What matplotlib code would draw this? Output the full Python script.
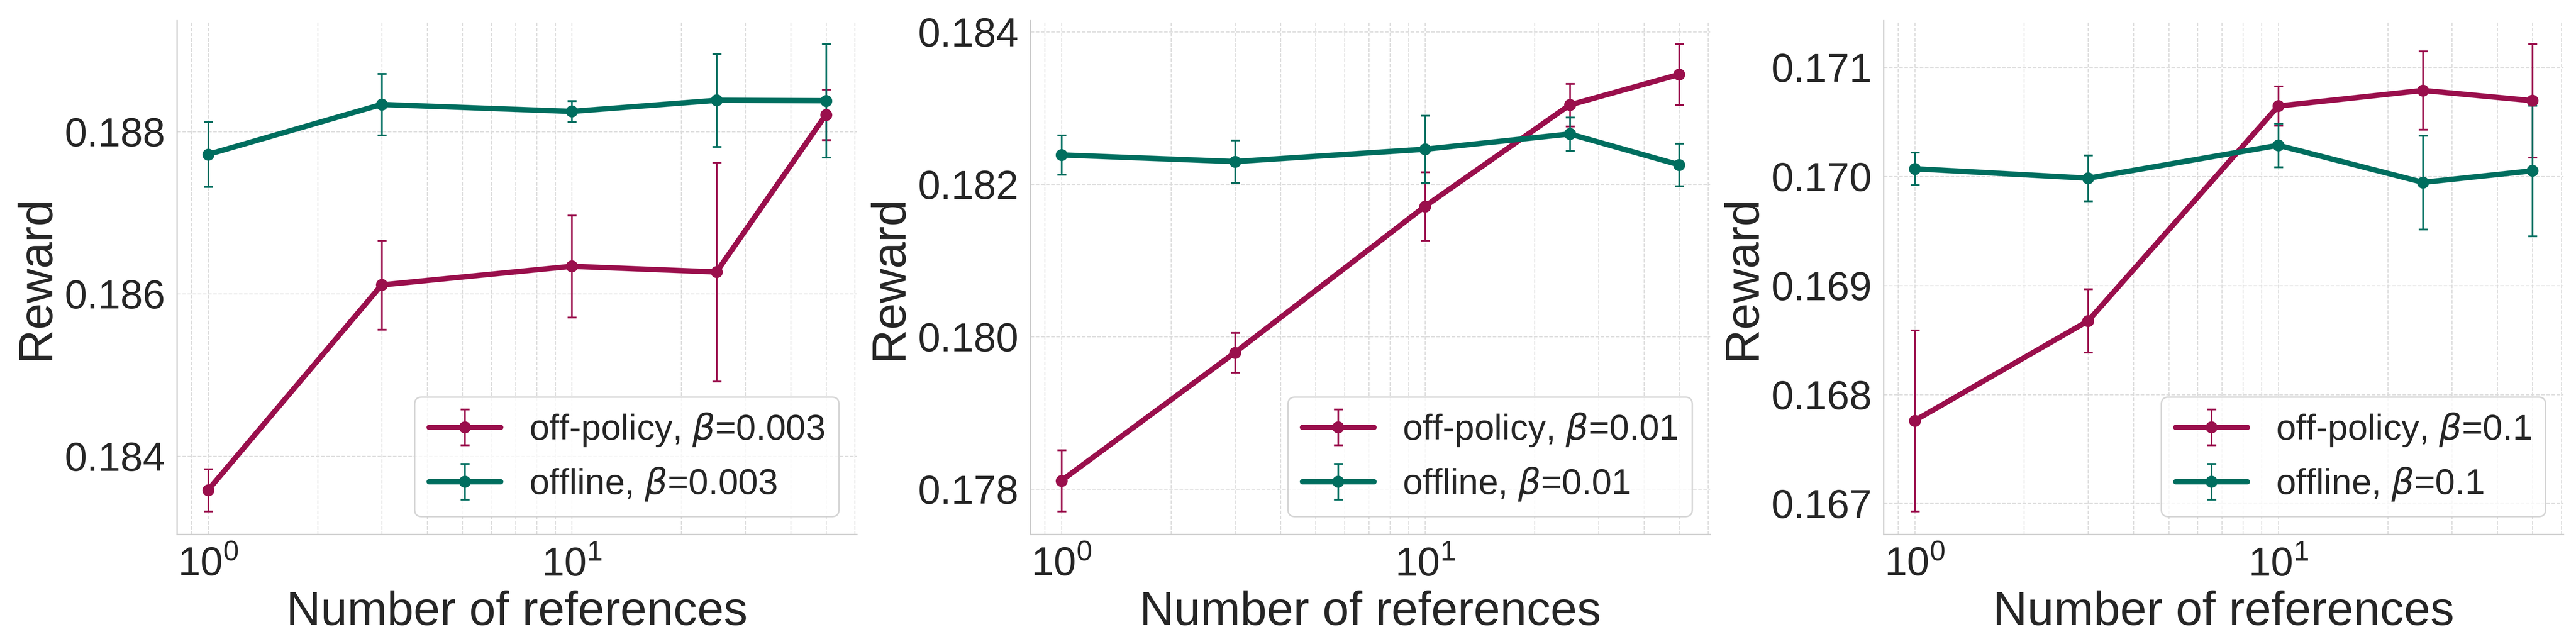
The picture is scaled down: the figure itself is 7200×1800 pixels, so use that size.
import matplotlib
matplotlib.use("Agg")
import matplotlib.pyplot as plt
import seaborn as sns

sns.set_style("whitegrid")
plt.rcParams['font.family'] = ['Liberation Sans', 'DejaVu Sans']
plt.rcParams['mathtext.fontset'] = 'dejavusans'

n_refs = [1, 3, 10, 25, 50]
betas = ["0.003", "0.01", "0.1"]

offpolicy_mean = [
    [0.18358, 0.18611, 0.18634, 0.18627, 0.18821],
    [0.17811, 0.17979, 0.18171, 0.18304, 0.18344],
    [0.16776, 0.168675, 0.170645, 0.170788, 0.170694],
]
offpolicy_err = [
    [0.00026, 0.00055, 0.00063, 0.00135, 0.00031],
    [0.00040, 0.00026, 0.00045, 0.00028, 0.00040],
    [0.00083, 0.00029, 0.00018, 0.00036, 0.00052],
]
offline_mean = [
    [0.18772, 0.188336, 0.18825, 0.188387, 0.188382],
    [0.182384, 0.182297, 0.182459, 0.182659, 0.182254],
    [0.17007, 0.169983, 0.170285, 0.169945, 0.170051],
]
offline_err = [
    [0.00040, 0.00038, 0.00013, 0.00057, 0.00070],
    [0.00026, 0.00028, 0.00044, 0.00022, 0.00028],
    [0.00015, 0.00021, 0.00020, 0.00043, 0.00060],
]

c_off = '#9A0F4C'
c_offline = '#006E5F'

fig, axes = plt.subplots(1, 3, figsize=(24, 6), dpi=300)
fig.subplots_adjust(left=0.0688, right=0.9951, bottom=0.17, top=0.968, wspace=0.2555)

for i, ax in enumerate(axes):
    for mean, err, col, name in [
        (offpolicy_mean[i], offpolicy_err[i], c_off, "off-policy"),
        (offline_mean[i], offline_err[i], c_offline, "offline"),
    ]:
        ax.errorbar(n_refs, mean, yerr=err, color=col, linewidth=3.6,
                    marker='o', markersize=7, elinewidth=1.1, capsize=3,
                    capthick=1.2, label=f"{name}, $\\beta$={betas[i]}")
    ax.set_xscale('log')
    ax.grid(True, which='both', linestyle='--', linewidth=0.65, color='#dcdcdc')
    ax.set_axisbelow(True)
    for s in ['top', 'right']:
        ax.spines[s].set_visible(False)
    for s in ['left', 'bottom']:
        ax.spines[s].set_color('#cccccc')
        ax.spines[s].set_linewidth(0.9)
    ax.tick_params(axis='both', which='both', labelsize=27, length=0, pad=8)
    ax.set_xlabel("Number of references", fontsize=32)
    ax.set_ylabel("Reward", fontsize=32)
    leg = ax.legend(loc='lower right', fontsize=24, frameon=True, fancybox=True,
                    framealpha=0.8, edgecolor='#cccccc')
    leg.get_frame().set_linewidth(1.0)

fig.savefig("out.png", dpi=300)
